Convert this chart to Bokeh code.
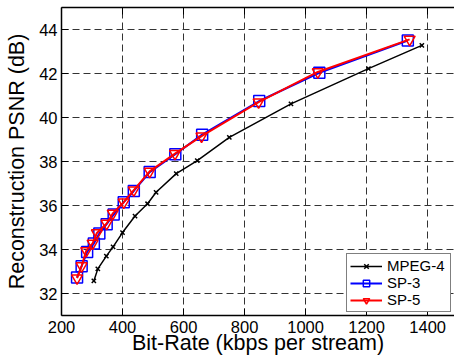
from bokeh.plotting import figure
from bokeh.models import Range1d, FixedTicker, Legend, LegendItem, LinearAxis
from bokeh.embed import file_html
from bokeh.resources import INLINE

# Data
mpeg4_rate = [306, 319, 347, 369, 400, 441, 482, 510, 576, 645, 750, 952, 1206, 1381]
mpeg4_psnr = [32.57, 33.12, 33.70, 34.12, 34.77, 35.52, 36.08, 36.60, 37.45, 38.04, 39.10, 40.62, 42.22, 43.28]

sp3_rate = [251, 266, 284, 306, 324, 348, 371, 404, 437, 489, 573, 661, 848, 1045, 1335]
sp3_psnr = [32.73, 33.24, 33.89, 34.27, 34.73, 35.15, 35.59, 36.15, 36.66, 37.52, 38.33, 39.22, 40.75, 42.03, 43.50]

sp5_rate = [251, 266, 281, 302, 316, 348, 368, 404, 437, 489, 572, 659, 846, 1040, 1341]
sp5_psnr = [32.70, 33.25, 33.94, 34.28, 34.75, 35.18, 35.64, 36.15, 36.70, 37.55, 38.36, 39.15, 40.70, 42.07, 43.55]

x_ticks = [200, 400, 600, 800, 1000, 1200, 1400]
y_ticks = [32, 34, 36, 38, 40, 42, 44]

FONT = "Liberation Sans"

p = figure(width=454, height=360, output_backend="svg", toolbar_location=None,
           x_range=Range1d(200, 1488), y_range=Range1d(31, 45),
           min_border_top=7, min_border_right=0, min_border_left=61, min_border_bottom=45)

p.border_fill_color = "white"
p.outline_line_color = None

bottom = p.below[0]
left = p.left[0]

# top border of the (cropped) box, with inward ticks and no labels
top_axis = LinearAxis(ticker=FixedTicker(ticks=x_ticks), major_label_text_font_size="0px",
                      major_label_text_alpha=0, major_label_standoff=0)
p.add_layout(top_axis, "above")

for ax in (bottom, left, top_axis):
    ax.axis_line_width = 1.5
    ax.axis_line_color = "black"
    ax.major_tick_in = 7
    ax.major_tick_out = 0
    ax.major_tick_line_color = "black"
    ax.major_tick_line_width = 1
    ax.minor_tick_line_color = None

bottom.ticker = FixedTicker(ticks=x_ticks)
left.ticker = FixedTicker(ticks=y_ticks)
bottom.axis_label = "Bit-Rate (kbps per stream)"
left.axis_label = "Reconstruction PSNR (dB)"

for ax in (bottom, left):
    ax.major_label_text_font = FONT
    ax.major_label_text_font_size = "16.5px"
    ax.major_label_text_color = "black"
    ax.axis_label_text_font = FONT
    ax.axis_label_text_font_size = "21.5px"
    ax.axis_label_text_font_style = "normal"
    ax.axis_label_text_color = "black"

bottom.major_label_standoff = 5
bottom.axis_label_standoff = -5
left.major_label_standoff = 4
left.axis_label_standoff = 7

p.grid.grid_line_color = "#333333"
p.grid.grid_line_alpha = 1.0
p.grid.grid_line_dash = "7 4"
p.grid.grid_line_width = 1
p.xgrid.ticker = FixedTicker(ticks=x_ticks)
p.ygrid.ticker = FixedTicker(ticks=y_ticks)

l1 = p.line(mpeg4_rate, mpeg4_psnr, line_color="black", line_width=1.5)
s1 = p.scatter(mpeg4_rate, mpeg4_psnr, marker="x", size=6, line_color="black", line_width=1.5)

l2 = p.line(sp3_rate, sp3_psnr, line_color="#0000ff", line_width=2)
s2 = p.scatter(sp3_rate, sp3_psnr, marker="square", size=11, line_color="#0000ff",
               fill_color=None, line_width=1.5)

l3 = p.line(sp5_rate, sp5_psnr, line_color="#ff0000", line_width=2)
s3 = p.scatter(sp5_rate, sp5_psnr, marker="inverted_triangle", size=11, line_color="#ff0000",
               fill_color=None, line_width=1.5)

legend = Legend(items=[
    LegendItem(label="MPEG-4", renderers=[l1, s1]),
    LegendItem(label="SP-3", renderers=[l2, s2]),
    LegendItem(label="SP-5", renderers=[l3, s3]),
], location="bottom_right")
legend.label_text_font = FONT
legend.label_text_font_size = "15px"
legend.label_text_color = "black"
legend.border_line_color = "black"
legend.border_line_width = 1.5
legend.background_fill_color = "white"
legend.background_fill_alpha = 1
legend.margin = 3
legend.padding = 3
legend.spacing = 0
legend.glyph_width = 32
legend.glyph_height = 16
legend.label_height = 16
legend.label_width = 60
legend.label_standoff = 5
p.add_layout(legend, "center")

open("out.html", "w").write(file_html(p, INLINE))
